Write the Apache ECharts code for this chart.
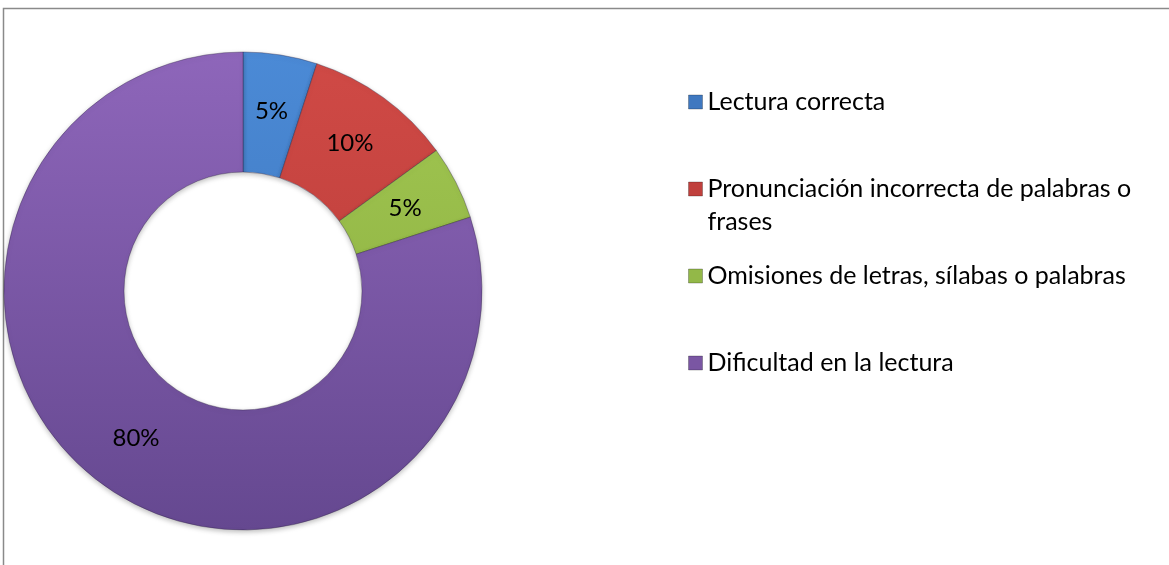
<!DOCTYPE html>
<html>
<head>
<meta charset="utf-8">
<script src="https://cdn.jsdelivr.net/npm/echarts@6/dist/echarts.min.js"></script>
<style>
html,body{margin:0;padding:0;background:#fff;}
#c{width:1169px;height:565px;}
</style>
</head>
<body>
<div id="c"></div>
<script>
const categories = ['Lectura correcta', 'Pronunciación incorrecta de palabras o frases', 'Omisiones de letras, sílabas o palabras', 'Dificultad en la lectura'];
const values = [5, 10, 5, 80];
const colorsTop = ['#4B8AD6', '#D04A46', '#A2C852', '#8E66BA'];
const colorsBottom = ['#3A70B4', '#B23834', '#86A83C', '#654890'];
const legendColors = ['#3F78C0', '#C0403D', '#93B848', '#7A56A3'];
const legendLabels = ['Lectura correcta', '\nPronunciación incorrecta de palabras o\nfrases', 'Omisiones de letras, sílabas o palabras', 'Dificultad en la lectura'];

const FONT = 'Lato';
const chart = echarts.init(document.getElementById('c'), null, {renderer: 'canvas'});

function grad(i) {
  return new echarts.graphic.LinearGradient(0, 52, 0, 530, [
    {offset: 0, color: colorsTop[i]},
    {offset: 1, color: colorsBottom[i]}
  ], true);
}

const rowCenters = [102, 189, 276, 363];
const LH = 33;
const legends = categories.map((name, i) => ({
  orient: 'vertical',
  left: 688,
  top: i === 1 ? rowCenters[i] - LH - LH / 2 : rowCenters[i] - LH / 2,
  padding: 0,
  itemWidth: 14,
  itemHeight: 14,
  icon: 'rect',
  selectedMode: false,
  data: [{name: name, itemStyle: {color: legendColors[i], borderColor: 'rgba(0,0,0,0.25)', borderWidth: 1}}],
  formatter: () => legendLabels[i],
  textStyle: {
    fontFamily: FONT,
    fontSize: 25,
    color: '#000',
    lineHeight: LH
  }
}));

const option = {
  animation: false,
  backgroundColor: '#fff',
  legend: legends,
  graphic: [{
    type: 'rect',
    shape: {x: 3.5, y: 8.5, width: 1300, height: 700},
    style: {fill: 'none', stroke: '#8a8a8a', lineWidth: 1.5},
    silent: true,
    z: -1
  }],
  series: [{
    type: 'pie',
    center: [243, 291],
    radius: [119, 239],
    startAngle: 90,
    clockwise: true,
    avoidLabelOverlap: false,
    label: {
      show: true,
      position: 'inside',
      formatter: p => p.value + '%',
      fontFamily: FONT,
      fontSize: 24,
      color: '#000'
    },
    labelLine: {show: false},
    itemStyle: {
      borderColor: 'rgba(40,30,60,0.35)',
      borderWidth: 1,
      shadowBlur: 5,
      shadowOffsetY: 2,
      shadowColor: 'rgba(0,0,0,0.25)'
    },
    emphasis: {disabled: true},
    data: categories.map((name, i) => ({
      name: name,
      value: values[i],
      itemStyle: {color: grad(i)}
    }))
  }]
};
chart.setOption(option);
</script>
</body>
</html>
